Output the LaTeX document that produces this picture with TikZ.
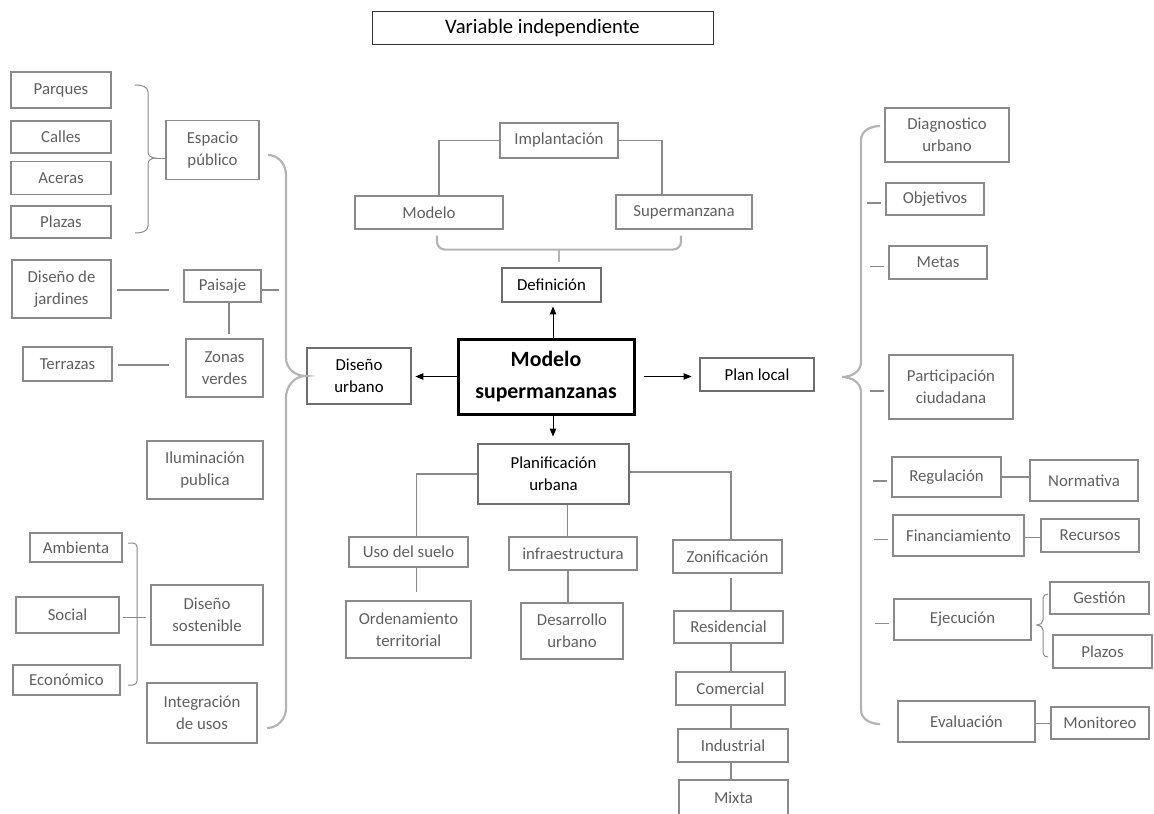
\documentclass[tikz,border=0pt]{standalone}
\usepackage{fontspec}
\setmainfont{Carlito}
\usepackage{xcolor}
\usepackage{tikz}
\usetikzlibrary{positioning, arrows.meta}

\definecolor{boxgray}{HTML}{8A8A8A}
\definecolor{txtgray}{HTML}{5F5F5F}
\definecolor{maingray}{HTML}{6E6E6E}
\definecolor{bracegray}{HTML}{B4B4B4}

\begin{document}
\begin{tikzpicture}[
  x=0.5pt, y=-0.5pt,
  wh/.style 2 args={minimum width=#1*0.5pt, minimum height=#2*0.5pt},
  box/.style={draw=boxgray, line width=0.6pt, text=txtgray, align=center,
              inner sep=0pt, font=\fontsize{8.4}{10.8}\selectfont},
  mainbox/.style={box, draw=maingray, line width=1.4pt, text=black},
  corebox/.style={box, draw=black, line width=1.5pt, text=black,
                  font=\fontsize{10.9}{16}\selectfont\bfseries},
  titlebox/.style={box, draw=black!80, line width=0.5pt, text=black,
                   font=\fontsize{10.3}{12}\selectfont},
  link/.style={draw=boxgray, line width=0.6pt},
  brace/.style={draw=bracegray, line width=1.1pt},
  thinbrace/.style={draw=boxgray, line width=0.5pt},
  edge/.style={-{Triangle[length=4pt, width=3.2pt]}, line width=0.5pt, black}
]
  \useasboundingbox (0,0) rectangle (1154,813);

  \node[titlebox, wh={341}{33}] (title) at (542.5,28.5) {Variable independiente};

  % centre
  \node[corebox, wh={176}{75}] (core) at (546,376.5) {Modelo\\supermanzanas};
  \node[mainbox, wh={99}{34}] (definicion) at (551.5,285) {Definición};
  \node[mainbox, wh={104}{56}] (disenourb) at (359,376) {Diseño\\urbano};
  \node[mainbox, wh={114}{33}] (planlocal) at (757,374.5) {Plan local};
  \node[mainbox, wh={151}{60}] (planif) at (553.5,474) {Planificación\\urbana};

  \node[box, wh={118}{35}] (implantacion) at (559,140.5) {Implantación};
  \node[box, wh={148}{33}] (modelo) at (429,212.5) {Modelo};
  \node[box, wh={136}{34}] (supermanzana) at (684,212) {Supermanzana};

  % left side
  \node[box, wh={100}{36}] (parques) at (61,90) {Parques};
  \node[box, wh={100}{32}] (calles) at (61,137) {Calles};
  \node[box, wh={100}{33}] (aceras) at (61,178) {Aceras};
  \node[box, wh={100}{32}] (plazas) at (61,222) {Plazas};
  \node[box, wh={93}{59}] (espacio) at (212.5,150) {Espacio\\público};
  \node[box, wh={99}{58}] (jardines) at (61.5,289) {Diseño de\\jardines};
  \node[box, wh={77}{32}] (paisaje) at (222.5,286) {Paisaje};
  \node[box, wh={89}{34}] (terrazas) at (67.5,364) {Terrazas};
  \node[box, wh={77}{58}] (zonas) at (224.5,368) {Zonas\\verdes};
  \node[box, wh={116}{58}] (ilum) at (205,470) {Iluminación\\publica};
  \node[box, wh={92}{29}] (ambienta) at (76,547.5) {Ambienta};
  \node[box, wh={103}{36}] (social) at (67.5,615) {Social};
  \node[box, wh={107}{30}] (economico) at (66.5,680) {Económico};
  \node[box, wh={112}{60}] (sostenible) at (207,615) {Diseño\\sostenible};
  \node[box, wh={110}{60}] (integracion) at (202,713) {Integración\\de usos};

  % bottom
  \node[box, wh={119}{30}] (uso) at (408.5,552) {Uso del suelo};
  \node[box, wh={125}{57}] (orden) at (408.5,629.5) {Ordenamiento\\territorial};
  \node[box, wh={128}{33}] (infra) at (573,553.5) {infraestructura};
  \node[box, wh={102}{56}] (desarrollo) at (572,631) {Desarrollo\\urbano};
  \node[box, wh={109}{33}] (zonif) at (727.5,556.5) {Zonificación};
  \node[box, wh={109}{32}] (resid) at (728.5,627) {Residencial};
  \node[box, wh={109}{33}] (comerc) at (730.5,688.5) {Comercial};
  \node[box, wh={110}{33}] (indust) at (733,745.5) {Industrial};
  \node[box, wh={109}{36}] (mixta) at (733.5,798) {Mixta};

  % right side
  \node[box, wh={124}{54}] (diagnostico) at (947,135) {Diagnostico\\urbano};
  \node[box, wh={98}{32}] (objetivos) at (935,199) {Objetivos};
  \node[box, wh={98}{33}] (metas) at (938,262.5) {Metas};
  \node[box, wh={124}{64}] (particip) at (951,387) {Participación\\ciudadana};
  \node[box, wh={109}{40}] (regulacion) at (946.5,477) {Regulación};
  \node[box, wh={108}{41}] (normativa) at (1084,480.5) {Normativa};
  \node[box, wh={131}{41}] (financ) at (958.5,535.5) {Financiamiento};
  \node[box, wh={98}{33}] (recursos) at (1090,535.5) {Recursos};
  \node[box, wh={137}{41}] (ejecucion) at (962.5,619.5) {Ejecución};
  \node[box, wh={99}{32}] (gestion) at (1099.5,598) {Gestión};
  \node[box, wh={99}{33}] (plazos) at (1102.5,651.5) {Plazos};
  \node[box, wh={137}{41}] (evaluacion) at (966.5,721.5) {Evaluación};
  \node[box, wh={98}{32}] (monitoreo) at (1100,723) {Monitoreo};

  % arrows from the core
  \draw[edge, shorten >=1.5pt] ([xshift=3.5pt]core.north) -- ([xshift=3.5pt]core.north |- definicion.south);
  \draw[edge, shorten >=1.5pt] (core.west) -- (core.west -| disenourb.east);
  \draw[edge, shorten <=4pt, shorten >=3.5pt] (core.east) -- (core.east -| planlocal.west);
  \draw[edge, shorten >=3pt] ([xshift=3.5pt]core.south) -- ([xshift=3.5pt]core.south |- planif.north);

  % definicion
  \draw[link] ([xshift=5pt]modelo.north) |- (implantacion.west);
  \draw[link] (implantacion.east) -| ([xshift=-11pt]supermanzana.north);
  \draw[brace, rounded corners=4pt] ([xshift=4pt,yshift=-3pt]modelo.south) |- ([xshift=-1.5pt,yshift=-10pt]supermanzana.south) -- ([xshift=-1.5pt,yshift=-3pt]supermanzana.south);
  \draw[brace] ([yshift=-10pt]implantacion.south |- supermanzana.south) -- ([xshift=3.75pt,yshift=2.5pt]definicion.north);

  % planificacion
  \draw[link] (planif.west) -| ([xshift=4pt]uso.north);
  \draw[link, shorten >=4pt] ([xshift=4pt]uso.south) -- ([xshift=4pt]orden.north);
  \draw[link] ([xshift=7pt]planif.south) -- ([xshift=7pt]planif.south |- infra.north);
  \draw[link] ([xshift=-2.5pt]infra.south) -- ([xshift=-2pt]desarrollo.north);
  \draw[link] ([yshift=1pt]planif.east) -| ([xshift=1.75pt]zonif.north);
  \draw[link, shorten <=2pt] ([xshift=1.75pt]zonif.south) -- ([xshift=1.75pt]zonif.south |- resid.north);
  \draw[link] ([xshift=1.25pt]resid.south) -- ([xshift=1.25pt]resid.south |- comerc.north);
  \draw[link] ([xshift=0.25pt]comerc.south) -- ([xshift=0.25pt]comerc.south |- indust.north);
  \draw[link] ([xshift=-1pt]indust.south) -- ([xshift=-1pt]indust.south |- mixta.north);

  % diseno urbano
  \draw[brace] (268,155) to[out=0,in=90] (286,175) -- (286,358)
    to[out=-90,in=180] (disenourb.west) to[out=180,in=90] (286,398)
    -- (286,708) to[out=-90,in=0] (267,728);
  \draw[thinbrace] (135,85) to[out=0,in=90] (148,92) -- (148,152)
    to[out=-90,in=180] (155,158) to[out=180,in=90] (148,164) -- (148,226)
    to[out=-90,in=0] (135,233);
  \draw[thinbrace] (155,158) -- ([yshift=-4pt]espacio.west);
  \draw[link, shorten <=2.5pt, shorten >=7pt] ([yshift=-2pt]paisaje.west -| jardines.east) -- ([yshift=-2pt]paisaje.west);
  \draw[link] ([yshift=-2pt]paisaje.east) -- ++(17,0);
  \draw[link, shorten >=2pt] ([xshift=3.25pt]paisaje.south) -- ([xshift=3.25pt]paisaje.south |- zonas.north);
  \draw[link, shorten <=2.5pt, shorten >=8pt] ([yshift=-0.5pt]terrazas.east) -- ([yshift=-0.5pt]terrazas.east -| zonas.west);
  \draw[thinbrace, rounded corners=2pt] (128,543) -| (137,685) -- (128,685);
  \draw[thinbrace, shorten <=1.5pt, shorten >=2pt] ([yshift=-1pt]social.east) -- ([yshift=-1pt]social.east -| sostenible.west);

  % plan local
  \draw[brace] (880,126) to[out=180,in=90] (861,140) -- (861,362)
    to[out=-90,in=0] (842,377) to[out=0,in=90] (861,392)
    -- (861,710) to[out=-90,in=180] (880,724);
  \foreach \n in {objetivos, metas, particip, regulacion, financ, ejecucion}
    \draw[link] ([xshift=-2pt,yshift=-2pt]\n.west) -- ++(-14,0);
  \draw[link] (regulacion.east) -- (regulacion.east -| normativa.west);
  \draw[link] ([yshift=-1pt]financ.east) -- ([yshift=-1pt]financ.east -| recursos.west);
  \draw[link] ([yshift=-1pt]evaluacion.east) -- ([yshift=-1pt]evaluacion.east -| monitoreo.west);
  \draw[thinbrace] (1048,594) to[out=180,in=90] (1043,598) -- (1043,620)
    to[out=-90,in=0] (1037,625) to[out=0,in=90] (1043,630) -- (1043,653)
    to[out=-90,in=180] (1048,657);
\end{tikzpicture}
\end{document}
